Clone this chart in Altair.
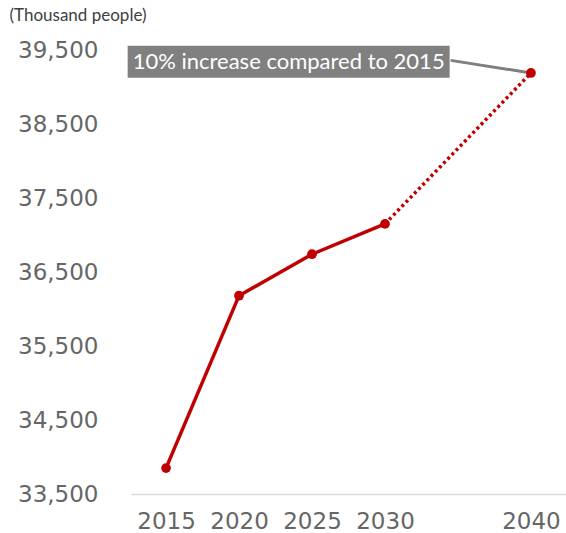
import altair as alt
import pandas as pd

years = [2015, 2020, 2025, 2030, 2040]
population = [33850, 36180, 36740, 37150, 39190]
y_ticks = [33500, 34500, 35500, 36500, 37500, 38500, 39500]
x_ticks = [2015, 2020, 2025, 2030, 2040]

note_text = "10% increase compared to 2015"
note_x = 2023.4
note_y = 39340
conn_x = [2034.5, 2040]
conn_y = [39360, 39190]

RED = "#C00000"

pts = pd.DataFrame({"year": years, "pop": population})
solid = pts[pts["year"] <= 2030]
dotted = pts[pts["year"] >= 2030]

xs = alt.Scale(domain=[2012.6, 2042.4], nice=False, zero=False)
ys = alt.Scale(domain=[33500, 39500], nice=False, zero=False)

x_enc = alt.X("year:Q", scale=xs, axis=alt.Axis(
    values=x_ticks, format="d", ticks=False, grid=False, title=None,
    domainColor="#d9d9d9", domainWidth=1.5, labelFont="DejaVu Sans",
    labelFontSize=23, labelColor="#666666", labelPadding=16))
y_enc = alt.Y("pop:Q", scale=ys, axis=alt.Axis(
    values=y_ticks, format=",d", ticks=False, grid=False, domain=False,
    labelFont="DejaVu Sans", labelFontSize=23, labelColor="#666666",
    labelPadding=33, title="(Thousand people)", titleAngle=0,
    titleAlign="left", titleBaseline="middle", titleX=-122, titleY=-35,
    titleFont="Lato", titleFontSize=17, titleFontWeight="normal",
    titleColor="#404040"))

line_solid = alt.Chart(solid).mark_line(color=RED, strokeWidth=3.5).encode(x=x_enc, y=y_enc)
line_dot = alt.Chart(dotted).mark_line(color=RED, strokeWidth=3.5, strokeDash=[3, 3]).encode(x="year:Q", y="pop:Q")
points = alt.Chart(pts).mark_point(filled=True, color=RED, size=95, opacity=1, shape="circle").encode(x="year:Q", y="pop:Q")

conn = pd.DataFrame({"year": [conn_x[0]], "pop": [conn_y[0]], "year2": [conn_x[1]], "pop2": [conn_y[1]]})
connector = alt.Chart(conn).mark_rule(color="#7f7f7f", strokeWidth=3).encode(
    x="year:Q", y="pop:Q", x2="year2:Q", y2="pop2:Q")

note = pd.DataFrame({"year": [note_x], "pop": [note_y], "t": [note_text]})
box = alt.Chart(note).mark_rect(color="#808080", width=322, height=32).encode(x="year:Q", y="pop:Q")
label = alt.Chart(note).mark_text(color="white", font="Lato", fontSize=22, align="center", baseline="middle").encode(
    x="year:Q", y="pop:Q", text="t:N")

chart = alt.layer(connector, line_solid, line_dot, points, box, label).properties(
    width=435, height=444,
    background="white",
    padding={"left": 131, "top": 50, "right": 0, "bottom": 39},
    autosize=alt.AutoSizeParams(type="none"),
).configure_view(strokeWidth=0, stroke=None)

chart.save("out.html", embed_options={"renderer": "svg", "actions": False})
